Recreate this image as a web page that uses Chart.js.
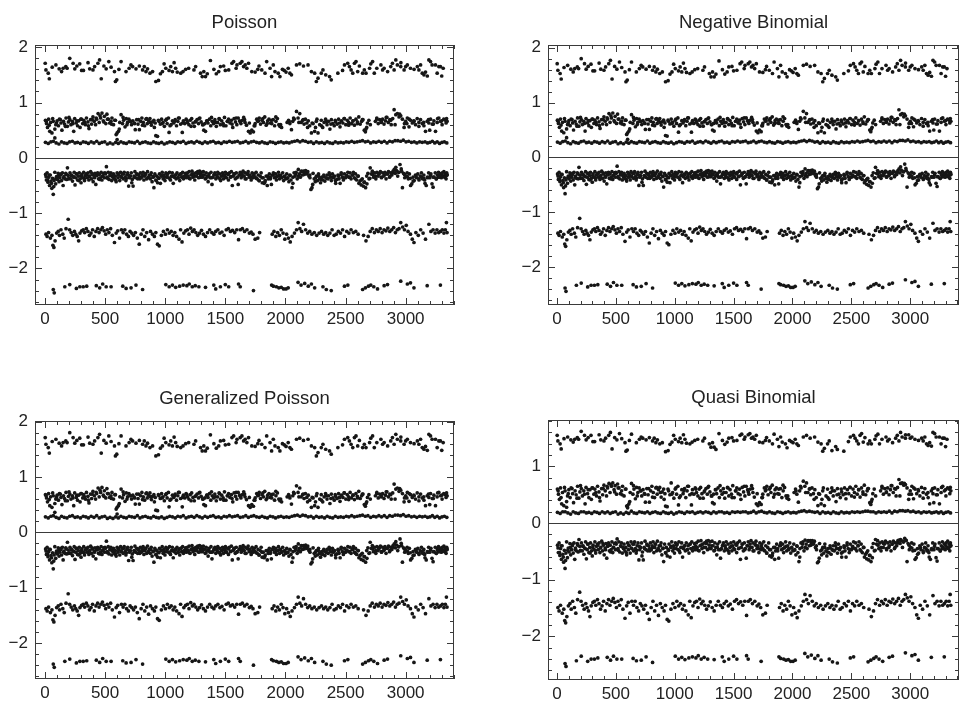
<!DOCTYPE html>
<html><head><meta charset="utf-8">
<script src="https://cdn.jsdelivr.net/npm/chart.js@4.4.0/dist/chart.umd.min.js"></script>
<style>
html,body{margin:0;padding:0;background:#fff;}
body{width:963px;height:703px;position:relative;overflow:hidden;}
canvas{position:absolute;}
</style></head><body>
<canvas id="c1"></canvas><canvas id="c2"></canvas><canvas id="c3"></canvas><canvas id="c4"></canvas>
<script>
const panelTitles = ['Poisson','Negative Binomial','Generalized Poisson','Quasi Binomial'];
const xTickValues = [0,500,1000,1500,2000,2500,3000];
const yTickValuesA = [-2,-1,0,1,2];
const yTickValuesQ = [-2,-1,0,1];

// ---- band 1 (top) ----
const obsB1 = [2,8,27,36,91,118,138,151,173,184,
206,234,248,289,305,358,372,399,413,440,
454,468,490,509,531,550,578,586,597,633,
674,700,729,757,785,812,826,840,853,873,
895,922,944,960,977,991,1005,1032,1046,1060,
1074,1087,1100,1129,1148,1170,1239,1253,1294,1308,
1321,1335,1350,1376,1445,1459,1486,1500,1528,1555,
1569,1597,1624,1638,1652,1679,1693,1720,1748,1770,
1803,1830,1844,1872,1885,1899,1913,1940,1954,1975,
2023,2037,2050,2092,2119,2188,2216,2243,2257,2271,
2298,2312,2335,2367,2381,2436,2491,2518,2532,2546,
2560,2574,2587,2601,2615,2642,2656,2670,2700,2725,
2739,2760,2794,2808,2821,2850,2876,2890,2904,2918,
2931,2959,2987,3000,3014,3040,3070,3097,3110,3124,
3138,3152,3165,3180,3193,3207,3220,3248,3262,3276,
3289,3300,3312,1405,1425,1590,1665,2005,2150,2475,
60,265,320,615,715,1195,1780,1990,2710,2960];
const poisB1 = [1.71,1.59,1.53,1.43,1.68,1.61,1.56,1.62,1.65,1.62,
1.80,1.71,1.61,1.70,1.58,1.72,1.61,1.59,1.65,1.71,
1.77,1.43,1.66,1.61,1.74,1.64,1.56,1.38,1.41,1.74,
1.56,1.62,1.65,1.61,1.66,1.59,1.65,1.56,1.61,1.53,
1.56,1.38,1.40,1.52,1.56,1.70,1.62,1.58,1.65,1.56,
1.72,1.62,1.55,1.53,1.56,1.60,1.59,1.65,1.53,1.47,
1.56,1.47,1.52,1.76,1.56,1.65,1.66,1.58,1.59,1.71,
1.74,1.68,1.71,1.74,1.65,1.62,1.71,1.56,1.55,1.60,
1.59,1.53,1.74,1.62,1.47,1.68,1.56,1.53,1.47,1.60,
1.62,1.53,1.50,1.68,1.70,1.68,1.56,1.53,1.38,1.44,
1.53,1.59,1.50,1.47,1.41,1.53,1.68,1.71,1.65,1.59,
1.53,1.71,1.74,1.56,1.66,1.53,1.59,1.53,1.62,1.74,
1.53,1.62,1.68,1.59,1.62,1.56,1.65,1.71,1.59,1.77,
1.68,1.65,1.59,1.65,1.68,1.62,1.60,1.65,1.59,1.68,
1.53,1.50,1.55,1.48,1.77,1.74,1.68,1.68,1.53,1.65,
1.65,1.48,1.62,1.60,1.52,1.62,1.68,1.55,1.66,1.58,
1.64,1.66,1.58,1.60,1.68,1.62,1.66,1.58,1.70,1.72];
const qbB1 = [1.55,1.45,1.40,1.31,1.52,1.47,1.43,1.48,1.51,1.48,
1.62,1.55,1.47,1.55,1.44,1.56,1.47,1.45,1.50,1.55,
1.60,1.31,1.51,1.47,1.58,1.49,1.42,1.27,1.29,1.57,
1.42,1.48,1.50,1.47,1.51,1.45,1.50,1.42,1.47,1.40,
1.42,1.26,1.28,1.39,1.43,1.55,1.48,1.44,1.50,1.42,
1.56,1.48,1.41,1.40,1.43,1.46,1.45,1.50,1.40,1.34,
1.42,1.34,1.30,1.58,1.43,1.50,1.51,1.45,1.46,1.55,
1.57,1.52,1.56,1.58,1.50,1.48,1.55,1.43,1.42,1.46,
1.45,1.40,1.57,1.48,1.35,1.52,1.43,1.40,1.33,1.46,
1.48,1.40,1.37,1.52,1.55,1.52,1.43,1.40,1.27,1.32,
1.40,1.45,1.28,1.35,1.30,1.27,1.52,1.55,1.50,1.45,
1.40,1.55,1.58,1.43,1.51,1.40,1.45,1.40,1.48,1.57,
1.40,1.48,1.52,1.45,1.48,1.42,1.50,1.55,1.45,1.60,
1.52,1.50,1.56,1.50,1.52,1.48,1.46,1.50,1.45,1.52,
1.40,1.37,1.42,1.36,1.60,1.58,1.52,1.52,1.40,1.50,
1.50,1.35,1.48,1.46,1.39,1.48,1.52,1.42,1.50,1.44,
1.49,1.51,1.44,1.46,1.52,1.48,1.51,1.44,1.54,1.56];

// ---- band 2 ----
const obsB2 = [4,13,21,30,40,47,58,69,82,90,
101,112,120,133,141,154,163,175,186,195,
207,216,228,239,247,260,271,280,292,303,
314,322,336,345,357,366,379,388,399,410,
421,430,442,451,463,474,485,494,506,515,
527,538,549,557,570,581,592,600,611,622,
633,645,654,666,676,687,698,708,720,731,
742,751,763,774,785,796,806,818,829,840,
851,862,873,885,894,906,917,922,936,948,
959,970,982,993,1004,1016,1027,1032,1049,1060,
1071,1083,1094,1105,1117,1128,1142,1151,1163,1174,
1185,1197,1208,1220,1231,1242,1254,1265,1277,1288,
1299,1311,1321,1335,1345,1356,1368,1379,1391,1402,
1413,1425,1436,1448,1459,1470,1482,1493,1505,1516,
1527,1539,1550,1562,1573,1585,1596,1607,1619,1630,
1642,1653,1664,1676,1693,1707,1720,1734,1748,1761,
1770,1782,1793,1805,1817,1828,1840,1852,1863,1875,
1886,1898,1910,1921,1933,1945,1954,1968,2014,2026,
2037,2050,2061,2073,2092,2105,2119,2131,2143,2155,
2166,2178,2190,2202,2216,2230,2243,2257,2271,2285,
2298,2310,2322,2334,2346,2358,2370,2382,2394,2406,
2418,2430,2442,2454,2466,2478,2490,2502,2514,2526,
2538,2550,2562,2574,2586,2598,2610,2622,2634,2645,
2656,2670,2682,2694,2706,2748,2760,2772,2784,2796,
2808,2820,2832,2844,2856,2868,2880,2892,2904,2918,
2931,2945,2959,2973,2987,3000,3014,3028,3041,3055,
3068,3082,3096,3110,3124,3138,3152,3165,3179,3193,
3207,3221,3235,3248,3262,3276,3290,3303,3317,3331,
3340,82,600,3345,1330,1745,2250,2665,3010,3200];
const poisB2 = [.68,.62,.55,.70,.48,.64,.45,.66,.52,.60,
.67,.58,.70,.63,.50,.66,.61,.72,.57,.65,
.69,.60,.66,.48,.71,.63,.58,.67,.55,.70,
.62,.68,.60,.72,.65,.53,.69,.61,.74,.66,
.60,.70,.80,.64,.72,.81,.67,.75,.62,.79,
.70,.63,.66,.72,.60,.68,.42,.45,.48,.64,
.78,.62,.68,.56,.71,.64,.70,.66,.60,.67,
.63,.51,.69,.61,.51,.66,.72,.64,.58,.70,
.62,.67,.71,.59,.65,.68,.63,.40,.39,.66,
.61,.70,.64,.57,.68,.62,.72,.46,.60,.67,
.63,.69,.58,.66,.72,.61,.46,.67,.62,.70,
.64,.60,.68,.71,.63,.57,.66,.69,.62,.72,
.65,.60,.50,.48,.67,.63,.70,.58,.66,.62,
.69,.57,.64,.71,.60,.67,.62,.73,.58,.66,
.70,.63,.68,.55,.71,.65,.60,.72,.67,.62,
.68,.73,.64,.59,.48,.45,.50,.47,.62,.70,
.66,.72,.61,.68,.64,.74,.59,.67,.70,.63,
.62,.69,.58,.66,.71,.60,.57,.55,.64,.68,
.62,.51,.66,.70,.84,.72,.80,.64,.68,.61,
.70,.63,.67,.58,.45,.62,.48,.66,.45,.60,
.68,.55,.64,.70,.60,.66,.52,.69,.62,.58,
.65,.61,.70,.56,.67,.63,.71,.60,.68,.64,
.72,.62,.67,.59,.70,.65,.74,.61,.66,.69,
.50,.52,.63,.68,.60,.66,.72,.62,.69,.64,
.70,.61,.67,.73,.64,.69,.60,.71,.87,.78,
.80,.74,.76,.70,.55,.66,.72,.56,.68,.63,
.67,.60,.71,.64,.69,.62,.58,.48,.66,.63,
.70,.61,.67,.48,.64,.72,.66,.60,.70,.68,
.71,.36,.33,.66,.62,.58,.55,.47,.62,.50];
const qbB2 = [.60,.51,.42,.62,.34,.54,.31,.57,.38,.48,
.59,.45,.62,.52,.36,.57,.50,.65,.44,.55,
.61,.48,.57,.34,.63,.52,.45,.59,.42,.62,
.51,.60,.48,.65,.55,.39,.61,.50,.67,.57,
.48,.62,.70,.54,.65,.71,.59,.66,.51,.69,
.62,.52,.57,.65,.48,.60,.30,.31,.34,.54,
.70,.51,.60,.43,.63,.54,.62,.57,.48,.59,
.52,.37,.61,.50,.37,.57,.65,.54,.45,.62,
.51,.59,.63,.46,.55,.60,.52,.30,.29,.57,
.50,.71,.54,.44,.60,.51,.65,.32,.48,.59,
.52,.61,.45,.57,.65,.50,.32,.59,.51,.62,
.54,.48,.60,.63,.52,.44,.57,.61,.51,.65,
.55,.48,.36,.34,.59,.52,.62,.45,.57,.51,
.61,.44,.54,.63,.48,.59,.51,.66,.45,.57,
.62,.52,.60,.42,.63,.55,.48,.65,.59,.51,
.60,.66,.54,.46,.34,.31,.36,.33,.51,.62,
.57,.65,.50,.60,.54,.67,.46,.59,.62,.52,
.51,.61,.45,.57,.63,.48,.44,.42,.54,.60,
.51,.37,.57,.62,.74,.65,.71,.54,.60,.50,
.62,.52,.59,.45,.31,.51,.34,.57,.31,.48,
.60,.42,.54,.62,.48,.57,.38,.61,.51,.45,
.55,.50,.62,.43,.59,.52,.63,.48,.60,.54,
.65,.51,.59,.46,.62,.55,.67,.50,.57,.61,
.36,.38,.52,.60,.48,.57,.65,.51,.61,.54,
.62,.50,.59,.66,.54,.61,.48,.63,.77,.70,
.71,.67,.68,.62,.42,.57,.65,.43,.60,.52,
.59,.48,.63,.54,.61,.51,.45,.34,.57,.52,
.62,.50,.59,.34,.54,.65,.57,.48,.62,.60,
.63,.28,.27,.57,.51,.45,.42,.33,.51,.36];
const obsB2b = [10,35,64,96,128,170,200,233,265,298,
330,361,393,426,458,490,520,553,586,618,
650,682,714,746,779,811,845,878,910,943,
975,1010,1040,1078,1110,1145,1180,1215,1250,1282,
1315,1350,1385,1418,1452,1487,1520,1556,1590,1625,
1660,1700,1740,1776,1812,1848,1884,1920,1960,2030,
2068,2112,2148,2184,2222,2262,2300,2340,2378,2414,
2450,2488,2526,2562,2600,2640,2676,2760,2798,2838,
2876,2912,2950,2990,3030,3070,3110,3150,3190,3230,
3266,3300,3336];
const poisB2b = [.66,.59,.71,.63,.69,.57,.73,.62,.67,.70,
.64,.58,.69,.72,.76,.65,.70,.61,.68,.52,
.73,.60,.66,.62,.69,.59,.71,.64,.55,.68,
.62,.70,.58,.66,.72,.63,.68,.57,.65,.71,
.60,.67,.73,.64,.70,.58,.66,.61,.72,.65,
.69,.63,.58,.67,.71,.62,.68,.74,.60,.66,
.72,.64,.69,.55,.63,.70,.58,.66,.61,.68,
.63,.71,.59,.67,.62,.69,.55,.70,.65,.73,
.68,.60,.79,.62,.70,.66,.57,.64,.69,.61,
.71,.67,.63];
const qbB2b = [.57,.45,.63,.52,.61,.44,.66,.51,.59,.62,
.54,.45,.61,.65,.68,.55,.62,.50,.60,.38,
.66,.48,.57,.51,.61,.46,.63,.54,.42,.60,
.51,.62,.45,.57,.65,.52,.60,.44,.55,.63,
.48,.59,.66,.54,.62,.45,.57,.50,.65,.55,
.61,.52,.45,.59,.63,.51,.60,.67,.48,.57,
.65,.54,.61,.42,.52,.62,.45,.57,.50,.60,
.52,.63,.46,.59,.51,.61,.42,.62,.55,.66,
.60,.48,.70,.51,.62,.57,.44,.54,.61,.50,
.63,.59,.52];

// ---- band 3 (thin dense band) ----
const obsB3 = [4,27,49,70,93,116,138,160,183,205,
228,250,271,295,318,340,361,384,407,430,
452,474,497,519,541,565,588,610,632,655,
677,700,722,745,768,790,812,835,857,880,
903,925,947,970,992,1015,1038,1060,1083,1105,
1128,1150,1173,1196,1218,1240,1263,1286,1308,1331,
1353,1376,1399,1421,1444,1466,1489,1512,1534,1557,
1579,1602,1624,1647,1670,1692,1715,1737,1760,1783,
1805,1828,1850,1873,1896,1918,1941,1963,1986,2009,
2031,2054,2076,2099,2121,2144,2167,2189,2212,2234,
2257,2280,2302,2325,2347,2370,2393,2415,2438,2460,
2483,2506,2528,2551,2573,2596,2619,2641,2664,2686,
2709,2732,2754,2777,2799,2822,2845,2867,2890,2912,
2935,2958,2980,3003,3025,3048,3071,3093,3116,3138,
3161,3182,3202,3222,3242,3262,3282,3302,3322,3342];
const poisB3 = [.28,.26,.29,.30,.27,.25,.29,.27,.26,.29,
.30,.27,.28,.26,.29,.28,.26,.29,.27,.30,
.26,.28,.29,.25,.27,.25,.28,.26,.29,.27,
.26,.29,.28,.27,.30,.26,.28,.29,.27,.26,
.29,.27,.26,.28,.25,.27,.29,.28,.26,.29,
.28,.30,.26,.28,.29,.27,.30,.28,.26,.29,
.27,.29,.30,.27,.28,.26,.29,.28,.30,.28,
.29,.30,.27,.28,.30,.27,.29,.30,.28,.27,
.29,.27,.26,.29,.28,.26,.28,.29,.27,.28,
.27,.29,.30,.31,.29,.31,.30,.28,.29,.26,
.29,.27,.28,.26,.29,.27,.26,.29,.27,.28,
.27,.29,.28,.30,.28,.29,.30,.31,.29,.30,
.27,.29,.28,.30,.28,.30,.27,.30,.29,.31,
.31,.30,.32,.29,.30,.28,.29,.27,.29,.28,
.29,.27,.28,.30,.27,.29,.26,.28,.29,.27];
const qbB3 = [.19,.17,.20,.20,.18,.16,.20,.18,.17,.20,
.20,.18,.19,.17,.20,.19,.17,.20,.18,.20,
.17,.19,.20,.16,.18,.16,.19,.17,.21,.18,
.17,.20,.19,.18,.20,.17,.19,.20,.18,.17,
.20,.18,.17,.19,.16,.18,.20,.19,.17,.20,
.19,.20,.17,.19,.20,.18,.20,.19,.17,.20,
.18,.20,.20,.18,.19,.17,.20,.19,.20,.19,
.20,.20,.18,.19,.21,.18,.20,.21,.19,.18,
.20,.18,.17,.20,.19,.17,.19,.20,.18,.19,
.18,.20,.21,.22,.20,.21,.20,.19,.20,.17,
.20,.18,.19,.17,.20,.18,.17,.20,.18,.19,
.18,.20,.19,.20,.19,.20,.21,.21,.20,.20,
.18,.20,.19,.20,.19,.21,.18,.21,.20,.22,
.22,.21,.22,.20,.21,.19,.20,.18,.20,.19,
.20,.18,.19,.20,.18,.20,.17,.19,.20,.18];

// ---- band 4 (dense, below zero) ----
const obsB4 = [5,12,18,25,31,38,44,50,57,63,
69,76,82,89,96,103,110,117,124,131,
138,145,151,158,166,173,180,187,193,200,
208,215,222,229,236,243,250,257,264,271,
278,285,293,300,307,315,322,329,336,343,
351,358,365,372,380,387,394,401,409,416,
423,430,438,445,452,460,467,474,482,489,
496,503,511,518,526,533,540,548,555,562,
570,577,585,592,600,607,614,622,629,636,
644,651,659,666,673,681,688,696,703,711,
718,726,733,741,748,756,763,771,778,786,
793,801,808,816,823,831,838,846,853,861,
868,876,884,891,899,906,914,922,929,937,
944,952,960,967,975,983,990,998,1006,1013,
1021,1029,1036,1044,1052,1059,1067,1075,1083,1090,
1098,1106,1114,1121,1129,1137,1145,1152,1160,1168,
1176,1184,1191,1199,1207,1215,1223,1231,1238,1246,
1254,1262,1270,1278,1286,1293,1301,1309,1317,1325,
1333,1341,1349,1357,1365,1373,1381,1389,1397,1405,
1413,1421,1429,1437,1445,1453,1461,1469,1477,1485,
1493,1501,1509,1518,1526,1534,1542,1550,1558,1566,
1575,1583,1591,1599,1607,1615,1624,1632,1640,1648,
1657,1665,1673,1681,1690,1698,1706,1715,1723,1731,
1740,1748,1756,1765,1773,1781,1790,1798,1807,1815,
1823,1832,1840,1849,1857,1866,1874,1883,1891,1900,
1908,1917,1925,1934,1942,1951,1960,1968,1977,1985,
1994,2003,2011,2020,2029,2037,2046,2055,2063,2072,
2081,2089,2098,2107,2116,2124,2133,2142,2151,2160,
2168,2177,2186,2195,2204,2212,2221,2230,2239,2248,
2257,2266,2275,2284,2292,2301,2310,2319,2328,2337,
2346,2355,2364,2373,2382,2391,2400,2409,2418,2427,
2437,2446,2455,2464,2473,2482,2491,2500,2510,2519,
2528,2537,2546,2556,2565,2574,2583,2593,2602,2611,
2620,2630,2639,2648,2658,2667,2676,2686,2695,2705,
2714,2723,2733,2742,2752,2761,2771,2780,2790,2799,
2809,2818,2828,2837,2847,2857,2866,2876,2885,2895,
2905,2914,2924,2934,2943,2953,2963,2973,2982,2992,
3002,3012,3022,3031,3041,3051,3061,3071,3081,3091,
3101,3111,3121,3131,3141,3151,3161,3171,3181,3191,
3201,3210,3219,3228,3237,3246,3255,3264,3273,3282,
3290,3297,3304,3311,3318,3324,3330,3336,3341,3345];
const poisB4 = [-.30,-.40,-.27,-.44,-.35,-.50,-.31,-.42,-.55,-.37,
-.66,-.41,-.26,-.47,-.34,-.39,-.28,-.43,-.36,-.31,
-.41,-.27,-.50,-.34,-.38,-.28,-.39,-.18,-.32,-.37,
-.27,-.38,-.31,-.42,-.34,-.26,-.49,-.36,-.29,-.40,
-.33,-.27,-.38,-.45,-.30,-.36,-.26,-.41,-.32,-.29,
-.36,-.27,-.40,-.33,-.25,-.38,-.30,-.43,-.34,-.28,
-.48,-.32,-.27,-.38,-.30,-.36,-.26,-.40,-.33,-.28,
-.36,-.29,-.16,-.35,-.26,-.39,-.31,-.27,-.41,-.33,
-.29,-.38,-.33,-.43,-.27,-.36,-.31,-.41,-.26,-.35,
-.29,-.38,-.26,-.35,-.41,-.31,-.27,-.51,-.36,-.33,
-.27,-.39,-.51,-.33,-.25,-.36,-.29,-.38,-.31,-.35,
-.27,-.36,-.31,-.26,-.40,-.33,-.29,-.38,-.25,-.35,
-.31,-.38,-.27,-.43,-.35,-.54,-.29,-.40,-.33,-.45,
-.36,-.29,-.46,-.33,-.26,-.38,-.31,-.41,-.27,-.35,
-.29,-.36,-.26,-.40,-.33,-.27,-.46,-.35,-.31,-.38,
-.27,-.36,-.31,-.41,-.29,-.35,-.26,-.38,-.33,-.28,
-.36,-.27,-.33,-.25,-.38,-.31,-.24,-.35,-.29,-.40,
-.27,-.33,-.25,-.36,-.24,-.30,-.26,-.35,-.25,-.31,
-.38,-.27,-.33,-.43,-.29,-.36,-.26,-.48,-.35,-.31,
-.27,-.38,-.31,-.26,-.36,-.29,-.41,-.33,-.27,-.38,
-.31,-.26,-.36,-.29,-.40,-.27,-.35,-.25,-.50,-.33,
-.29,-.38,-.27,-.35,-.48,-.31,-.26,-.36,-.29,-.24,
-.33,-.27,-.38,-.29,-.25,-.35,-.31,-.40,-.27,-.36,
-.29,-.35,-.26,-.38,-.31,-.41,-.33,-.27,-.45,-.36,
-.46,-.41,-.33,-.50,-.38,-.29,-.35,-.48,-.31,-.27,
-.36,-.29,-.40,-.33,-.26,-.38,-.31,-.35,-.27,-.41,
-.33,-.38,-.29,-.36,-.43,-.31,-.40,-.54,-.35,-.27,
-.33,-.26,-.38,-.21,-.29,-.35,-.25,-.31,-.24,-.27,
-.23,-.29,-.25,-.33,-.36,-.57,-.54,-.28,-.38,-.43,
-.33,-.41,-.29,-.38,-.45,-.35,-.40,-.31,-.42,-.36,
-.31,-.38,-.27,-.35,-.41,-.29,-.36,-.33,-.46,-.39,
-.31,-.38,-.46,-.27,-.35,-.40,-.29,-.36,-.33,-.26,
-.35,-.27,-.38,-.31,-.26,-.36,-.29,-.40,-.33,-.46,
-.42,-.49,-.38,-.51,-.44,-.54,-.33,-.28,-.38,-.18,
-.29,-.24,-.35,-.27,-.38,-.26,-.33,-.29,-.25,-.36,
-.27,-.33,-.26,-.38,-.29,-.25,-.35,-.27,-.31,-.24,
-.21,-.28,-.23,-.33,-.26,-.12,-.20,-.54,-.28,-.36,
-.33,-.27,-.38,-.29,-.50,-.47,-.35,-.41,-.31,-.36,
-.29,-.40,-.33,-.27,-.38,-.31,-.46,-.50,-.35,-.27,
-.36,-.29,-.47,-.53,-.35,-.27,-.38,-.31,-.26,-.35,
-.29,-.36,-.27,-.33,-.25,-.35,-.29,-.38,-.27,-.31];
const qbB4 = [-.39,-.52,-.35,-.57,-.45,-.64,-.40,-.55,-.69,-.48,
-.80,-.53,-.33,-.61,-.44,-.51,-.36,-.56,-.47,-.40,
-.53,-.35,-.64,-.44,-.49,-.36,-.51,-.29,-.41,-.48,
-.35,-.49,-.40,-.55,-.44,-.33,-.63,-.47,-.37,-.52,
-.43,-.35,-.49,-.58,-.39,-.47,-.33,-.53,-.41,-.37,
-.47,-.35,-.52,-.43,-.32,-.49,-.39,-.56,-.44,-.36,
-.62,-.41,-.35,-.49,-.39,-.47,-.33,-.52,-.43,-.36,
-.47,-.37,-.28,-.45,-.33,-.51,-.40,-.35,-.53,-.43,
-.37,-.49,-.43,-.56,-.35,-.47,-.40,-.53,-.33,-.45,
-.37,-.49,-.33,-.45,-.53,-.40,-.35,-.65,-.47,-.43,
-.35,-.51,-.65,-.43,-.32,-.47,-.37,-.49,-.40,-.45,
-.35,-.47,-.40,-.33,-.52,-.43,-.37,-.49,-.32,-.45,
-.40,-.49,-.35,-.56,-.45,-.68,-.37,-.52,-.43,-.58,
-.47,-.37,-.60,-.43,-.33,-.49,-.40,-.53,-.35,-.45,
-.37,-.47,-.33,-.52,-.43,-.35,-.60,-.45,-.40,-.49,
-.35,-.47,-.40,-.53,-.37,-.45,-.33,-.49,-.43,-.36,
-.47,-.35,-.43,-.32,-.49,-.40,-.31,-.45,-.37,-.52,
-.35,-.43,-.32,-.47,-.31,-.39,-.33,-.45,-.32,-.40,
-.49,-.35,-.43,-.56,-.37,-.47,-.33,-.62,-.45,-.40,
-.35,-.49,-.40,-.33,-.47,-.37,-.53,-.43,-.35,-.49,
-.40,-.33,-.47,-.37,-.52,-.35,-.45,-.32,-.64,-.43,
-.37,-.49,-.35,-.45,-.62,-.40,-.33,-.47,-.37,-.31,
-.43,-.35,-.49,-.37,-.32,-.45,-.40,-.52,-.35,-.47,
-.37,-.45,-.33,-.49,-.40,-.53,-.43,-.35,-.58,-.47,
-.60,-.53,-.43,-.64,-.49,-.37,-.45,-.62,-.40,-.35,
-.47,-.37,-.52,-.43,-.33,-.49,-.40,-.45,-.35,-.53,
-.43,-.49,-.37,-.47,-.56,-.40,-.52,-.68,-.45,-.35,
-.43,-.33,-.49,-.30,-.37,-.45,-.32,-.40,-.31,-.35,
-.31,-.37,-.32,-.43,-.47,-.70,-.68,-.36,-.49,-.56,
-.43,-.53,-.37,-.49,-.58,-.45,-.52,-.40,-.55,-.47,
-.40,-.49,-.35,-.45,-.53,-.37,-.47,-.43,-.60,-.51,
-.40,-.49,-.60,-.35,-.45,-.52,-.37,-.47,-.43,-.33,
-.45,-.35,-.49,-.40,-.33,-.47,-.37,-.52,-.43,-.60,
-.55,-.63,-.49,-.65,-.57,-.68,-.43,-.36,-.49,-.29,
-.37,-.31,-.45,-.35,-.49,-.33,-.43,-.37,-.32,-.47,
-.35,-.43,-.33,-.49,-.37,-.32,-.45,-.35,-.40,-.31,
-.30,-.36,-.31,-.43,-.33,-.27,-.30,-.68,-.36,-.47,
-.43,-.35,-.49,-.37,-.64,-.61,-.45,-.53,-.40,-.47,
-.37,-.52,-.43,-.35,-.49,-.40,-.60,-.64,-.45,-.35,
-.47,-.37,-.61,-.67,-.45,-.35,-.49,-.40,-.33,-.45,
-.37,-.47,-.35,-.43,-.32,-.45,-.37,-.49,-.35,-.40];
const obsB4b = [9,22,35,54,73,92,113,134,155,177,
197,219,240,260,282,304,326,347,369,391,
412,434,456,478,499,521,543,565,588,610,
632,654,677,699,722,744,767,789,812,834,
857,879,902,925,948,970,993,1016,1039,1062,
1085,1108,1131,1154,1177,1200,1223,1247,1270,1293,
1316,1339,1362,1386,1409,1432,1455,1479,1502,1525,
1548,1572,1595,1618,1641,1665,1688,1711,1735,1758,
1781,1805,1828,1851,1875,1898,1921,1945,1968,1992,
2015,2039,2062,2086,2109,2133,2156,2180,2203,2227,
2250,2274,2297,2321,2345,2368,2392,2416,2440,2463,
2487,2511,2535,2558,2582,2606,2630,2654,2678,2702,
2726,2750,2774,2798,2822,2846,2870,2894,2918,2942,
2966,2990,3014,3038,3062,3086,3110,3134,3158,3182,
3206,3230,3254,3278,3302,3326,3338,3343,3270,3150];
const poisB4b = [-.34,-.40,-.31,-.46,-.52,-.37,-.33,-.29,-.36,-.30,
-.38,-.32,-.35,-.29,-.41,-.33,-.37,-.30,-.34,-.28,
-.36,-.31,-.39,-.33,-.27,-.37,-.32,-.35,-.40,-.30,
-.34,-.29,-.37,-.32,-.45,-.35,-.30,-.38,-.33,-.29,
-.36,-.31,-.34,-.41,-.37,-.32,-.35,-.30,-.38,-.33,
-.31,-.36,-.29,-.34,-.32,-.37,-.30,-.33,-.28,-.35,
-.31,-.37,-.33,-.36,-.30,-.34,-.38,-.32,-.35,-.30,
-.34,-.29,-.36,-.31,-.33,-.38,-.30,-.35,-.32,-.37,
-.41,-.36,-.44,-.33,-.38,-.31,-.35,-.32,-.36,-.34,
-.37,-.32,-.46,-.29,-.33,-.24,-.30,-.27,-.31,-.48,
-.36,-.33,-.39,-.34,-.37,-.31,-.35,-.41,-.33,-.30,
-.36,-.32,-.35,-.31,-.38,-.33,-.40,-.44,-.47,-.37,
-.30,-.33,-.28,-.35,-.31,-.29,-.33,-.27,-.17,-.26,
-.24,-.30,-.34,-.37,-.42,-.33,-.38,-.35,-.40,-.36,
-.32,-.35,-.38,-.33,-.31,-.34,-.32,-.30,-.35,-.37];
const qbB4b = [-.44,-.52,-.40,-.60,-.66,-.48,-.43,-.37,-.47,-.39,
-.49,-.41,-.45,-.37,-.53,-.43,-.48,-.39,-.44,-.36,
-.47,-.40,-.51,-.43,-.35,-.48,-.41,-.45,-.52,-.39,
-.44,-.37,-.48,-.41,-.58,-.45,-.39,-.49,-.43,-.37,
-.47,-.40,-.44,-.53,-.48,-.41,-.45,-.39,-.49,-.43,
-.40,-.47,-.37,-.44,-.41,-.48,-.39,-.43,-.36,-.45,
-.40,-.48,-.43,-.47,-.39,-.44,-.49,-.41,-.45,-.39,
-.44,-.37,-.47,-.40,-.43,-.49,-.39,-.45,-.41,-.48,
-.53,-.47,-.57,-.43,-.49,-.40,-.45,-.41,-.47,-.44,
-.48,-.41,-.60,-.37,-.43,-.31,-.39,-.35,-.40,-.62,
-.47,-.43,-.51,-.44,-.48,-.40,-.45,-.53,-.43,-.39,
-.47,-.41,-.45,-.40,-.49,-.43,-.52,-.57,-.61,-.48,
-.39,-.43,-.36,-.45,-.40,-.37,-.43,-.35,-.29,-.33,
-.31,-.39,-.44,-.48,-.55,-.43,-.49,-.45,-.52,-.47,
-.41,-.45,-.49,-.43,-.40,-.44,-.41,-.39,-.45,-.48];

// ---- band 5 ----
const obsB5 = [8,18,30,45,58,66,74,84,97,110,
121,133,148,160,175,193,205,218,231,245,
256,268,280,291,305,318,330,344,357,370,
383,396,410,424,438,450,465,478,492,505,
518,532,546,560,578,592,605,620,636,650,
664,679,694,708,722,737,752,768,784,800,
815,830,846,862,878,894,910,922,936,950,
968,985,1002,1018,1034,1050,1066,1080,1095,1115,
1128,1140,1155,1170,1185,1198,1212,1226,1240,1255,
1270,1286,1302,1318,1335,1352,1370,1388,1405,1420,
1438,1455,1472,1490,1508,1525,1542,1560,1578,1595,
1610,1625,1642,1660,1680,1700,1715,1730,1748,1770,
1785,1890,1905,1920,1935,1950,1965,1980,1995,2010,
2025,2040,2055,2075,2092,2106,2120,2135,2150,2168,
2185,2202,2220,2240,2260,2280,2300,2318,2335,2352,
2370,2388,2405,2422,2440,2458,2475,2492,2510,2528,
2546,2565,2585,2605,2650,2670,2688,2705,2722,2740,
2756,2772,2788,2804,2820,2836,2852,2868,2884,2900,
2915,2930,2945,2959,2975,2990,3005,3020,3040,3055,
3069,3085,3105,3125,3145,3165,3193,3210,3228,3245,
3260,3275,3290,3305,3318,3330,3339,3344];
const poisB5 = [-1.38,-1.42,-1.35,-1.45,-1.40,-1.58,-1.62,-1.50,-1.36,-1.33,
-1.40,-1.30,-1.38,-1.45,-1.28,-1.11,-1.30,-1.35,-1.40,-1.33,
-1.38,-1.42,-1.50,-1.36,-1.32,-1.30,-1.35,-1.28,-1.33,-1.40,
-1.36,-1.30,-1.42,-1.33,-1.28,-1.35,-1.30,-1.26,-1.32,-1.38,
-1.30,-1.35,-1.28,-1.40,-1.53,-1.36,-1.32,-1.45,-1.30,-1.35,
-1.30,-1.38,-1.42,-1.33,-1.36,-1.40,-1.35,-1.45,-1.56,-1.38,
-1.30,-1.42,-1.35,-1.48,-1.33,-1.38,-1.42,-1.35,-1.56,-1.59,
-1.40,-1.33,-1.38,-1.30,-1.36,-1.33,-1.40,-1.35,-1.42,-1.47,
-1.30,-1.52,-1.36,-1.32,-1.30,-1.38,-1.27,-1.33,-1.30,-1.35,
-1.40,-1.36,-1.31,-1.38,-1.42,-1.35,-1.30,-1.35,-1.38,-1.33,
-1.30,-1.36,-1.34,-1.40,-1.30,-1.28,-1.33,-1.31,-1.35,-1.30,
-1.48,-1.30,-1.28,-1.33,-1.30,-1.36,-1.34,-1.38,-1.47,-1.45,
-1.35,-1.38,-1.33,-1.42,-1.35,-1.40,-1.30,-1.36,-1.47,-1.38,
-1.45,-1.52,-1.42,-1.36,-1.30,-1.17,-1.28,-1.33,-1.20,-1.30,
-1.36,-1.33,-1.38,-1.35,-1.40,-1.36,-1.33,-1.38,-1.35,-1.40,
-1.36,-1.30,-1.40,-1.38,-1.33,-1.36,-1.30,-1.42,-1.33,-1.36,
-1.30,-1.35,-1.33,-1.38,-1.40,-1.50,-1.42,-1.33,-1.28,-1.35,
-1.30,-1.33,-1.28,-1.35,-1.30,-1.32,-1.27,-1.33,-1.30,-1.26,
-1.35,-1.30,-1.28,-1.17,-1.25,-1.30,-1.22,-1.33,-1.38,-1.47,
-1.53,-1.35,-1.40,-1.30,-1.36,-1.47,-1.20,-1.33,-1.30,-1.36,
-1.30,-1.35,-1.33,-1.30,-1.36,-1.30,-1.17,-1.35];
const qbB5 = [-1.49,-1.55,-1.45,-1.59,-1.52,-1.72,-1.76,-1.65,-1.46,-1.42,
-1.52,-1.38,-1.49,-1.59,-1.35,-1.22,-1.38,-1.45,-1.52,-1.42,
-1.49,-1.55,-1.65,-1.46,-1.40,-1.38,-1.45,-1.35,-1.42,-1.52,
-1.46,-1.38,-1.55,-1.42,-1.35,-1.45,-1.38,-1.33,-1.40,-1.49,
-1.38,-1.45,-1.35,-1.52,-1.68,-1.46,-1.40,-1.59,-1.38,-1.45,
-1.38,-1.49,-1.55,-1.42,-1.46,-1.52,-1.45,-1.59,-1.70,-1.49,
-1.38,-1.55,-1.45,-1.63,-1.42,-1.49,-1.55,-1.45,-1.70,-1.73,
-1.52,-1.42,-1.49,-1.38,-1.46,-1.42,-1.52,-1.45,-1.55,-1.62,
-1.38,-1.67,-1.46,-1.40,-1.38,-1.49,-1.34,-1.42,-1.38,-1.45,
-1.52,-1.46,-1.39,-1.49,-1.55,-1.45,-1.38,-1.45,-1.49,-1.42,
-1.38,-1.46,-1.43,-1.52,-1.38,-1.35,-1.42,-1.39,-1.45,-1.38,
-1.63,-1.38,-1.35,-1.42,-1.38,-1.46,-1.43,-1.49,-1.62,-1.59,
-1.45,-1.49,-1.42,-1.55,-1.45,-1.52,-1.38,-1.46,-1.62,-1.49,
-1.59,-1.67,-1.55,-1.46,-1.38,-1.26,-1.35,-1.42,-1.28,-1.38,
-1.46,-1.42,-1.49,-1.45,-1.52,-1.46,-1.42,-1.49,-1.45,-1.52,
-1.46,-1.38,-1.52,-1.49,-1.42,-1.46,-1.38,-1.55,-1.42,-1.46,
-1.38,-1.45,-1.42,-1.49,-1.52,-1.65,-1.55,-1.42,-1.35,-1.45,
-1.38,-1.42,-1.35,-1.45,-1.38,-1.40,-1.34,-1.42,-1.38,-1.33,
-1.45,-1.38,-1.35,-1.26,-1.32,-1.38,-1.30,-1.42,-1.49,-1.62,
-1.68,-1.45,-1.52,-1.38,-1.46,-1.62,-1.28,-1.42,-1.38,-1.46,
-1.38,-1.45,-1.42,-1.38,-1.46,-1.38,-1.26,-1.45];

// ---- band 6 (bottom) ----
const obsB6 = [69,77,165,206,261,290,318,347,427,455,
480,509,550,647,675,716,757,812,1005,1033,
1060,1087,1120,1150,1180,1200,1225,1250,1280,1335,
1404,1420,1459,1500,1528,1610,1624,1734,1885,1900,
1925,1945,1965,1985,2005,2023,2105,2130,2160,2190,
2216,2243,2312,2340,2381,2491,2519,2642,2665,2690,
2710,2735,2766,2821,2849,2959,3014,3040,3069,3179,
3289];
const poisB6 = [-2.38,-2.44,-2.33,-2.29,-2.36,-2.33,-2.33,-2.32,-2.31,-2.35,
-2.28,-2.33,-2.33,-2.32,-2.36,-2.35,-2.30,-2.38,-2.29,-2.33,
-2.30,-2.34,-2.32,-2.30,-2.31,-2.28,-2.33,-2.31,-2.33,-2.34,
-2.30,-2.37,-2.33,-2.29,-2.33,-2.28,-2.33,-2.40,-2.30,-2.32,
-2.33,-2.35,-2.34,-2.37,-2.37,-2.35,-2.25,-2.30,-2.27,-2.32,
-2.28,-2.35,-2.33,-2.38,-2.40,-2.32,-2.30,-2.38,-2.35,-2.32,
-2.30,-2.33,-2.37,-2.31,-2.29,-2.23,-2.28,-2.26,-2.35,-2.31,
-2.30];
const qbB6 = [-2.48,-2.53,-2.43,-2.35,-2.44,-2.40,-2.40,-2.38,-2.37,-2.42,
-2.35,-2.40,-2.40,-2.39,-2.43,-2.42,-2.36,-2.46,-2.35,-2.40,
-2.37,-2.41,-2.38,-2.36,-2.38,-2.34,-2.40,-2.37,-2.40,-2.41,
-2.36,-2.44,-2.40,-2.35,-2.40,-2.34,-2.40,-2.44,-2.36,-2.39,
-2.40,-2.42,-2.41,-2.44,-2.44,-2.42,-2.30,-2.36,-2.33,-2.39,
-2.34,-2.42,-2.40,-2.45,-2.47,-2.38,-2.36,-2.45,-2.42,-2.39,
-2.36,-2.40,-2.44,-2.37,-2.35,-2.29,-2.34,-2.32,-2.42,-2.37,
-2.36];

// ---------------------------------------------------------------
const obsBands = [obsB1, obsB2, obsB2b, obsB3, obsB4, obsB4b, obsB5, obsB6];
const poissonBands = [poisB1, poisB2, poisB2b, poisB3, poisB4, poisB4b, poisB5, poisB6];
const quasiBands = [qbB1, qbB2, qbB2b, qbB3, qbB4, qbB4b, qbB5, qbB6];

function makePoints(xs, ys) {
  const n = Math.min(xs.length, ys.length), out = [];
  for (let i = 0; i < n; i++) out.push({x: xs[i], y: ys[i]});
  return out;
}

const FONT = "'Liberation Sans', Arial, Helvetica, sans-serif";
const INK = '#222';

const panels = [
  {id:'c1', title:panelTitles[0], left:0,   area:[35,45,457,305],  xr:[-83,3402], yr:[-2.66,2.04], yt:yTickValuesA, bands:poissonBands},
  {id:'c2', title:panelTitles[1], left:500, area:[548,45,962,305], xr:[-76,3414], yr:[-2.69,2.05], yt:yTickValuesA, bands:poissonBands},
  {id:'c3', title:panelTitles[2], left:0,   area:[35,421,457,679], xr:[-83,3402], yr:[-2.65,2.01], yt:yTickValuesA, bands:poissonBands},
  {id:'c4', title:panelTitles[3], left:500, area:[548,420,962,680], xr:[-76,3414], yr:[-2.77,1.82], yt:yTickValuesQ, bands:quasiBands}
];

const TITLE_H = 45, XAXIS_H = 30, PAD_R = 1;

const framePlugin = {
  id: 'mmaFrame',
  afterDatasetsDraw(chart) {
    const {ctx, chartArea: a} = chart;
    const xs = chart.scales.x, ys = chart.scales.y;
    ctx.save();
    ctx.strokeStyle = '#3a3a3a';
    ctx.lineWidth = 1;
    const y0 = Math.round(ys.getPixelForValue(0)) + 0.5;
    ctx.beginPath(); ctx.moveTo(a.left, y0); ctx.lineTo(a.right, y0); ctx.stroke();
    ctx.strokeRect(a.left + 0.5, a.top + 0.5, a.right - a.left - 1, a.bottom - a.top - 1);
    ctx.beginPath();
    for (let k = 0; k * 100 <= xs.max; k++) {
      const px = Math.round(xs.getPixelForValue(k * 100)) + 0.5;
      const L = (k % 5 === 0) ? 7 : 4;
      ctx.moveTo(px, a.bottom); ctx.lineTo(px, a.bottom - L);
      ctx.moveTo(px, a.top); ctx.lineTo(px, a.top + L);
    }
    for (let k = Math.ceil(ys.min * 5); k <= Math.floor(ys.max * 5); k++) {
      const py = Math.round(ys.getPixelForValue(k / 5)) + 0.5;
      const L = (k % 5 === 0) ? 7 : 4;
      ctx.moveTo(a.left, py); ctx.lineTo(a.left + L, py);
      ctx.moveTo(a.right, py); ctx.lineTo(a.right - L, py);
    }
    ctx.stroke();
    ctx.restore();
  }
};

function fmt(v) { return v < 0 ? '\u2212' + Math.abs(v) : String(v); }

panels.forEach(p => {
  const cv = document.getElementById(p.id);
  const [al, at, ar, ab] = p.area;
  const top = at - TITLE_H;
  const w = ar + PAD_R - p.left;
  const h = ab + XAXIS_H - top;
  cv.width = w; cv.height = h;
  cv.style.left = p.left + 'px'; cv.style.top = top + 'px';
  cv.style.width = w + 'px'; cv.style.height = h + 'px';
  const yAxisW = al - p.left;

  const datasets = obsBands.map((xs, i) => ({
    data: makePoints(xs, p.bands[i]),
    pointRadius: 1.85,
    pointBackgroundColor: '#161616',
    pointBorderWidth: 0,
    showLine: false
  }));

  new Chart(cv, {
    type: 'scatter',
    data: { datasets },
    options: {
      responsive: false,
      animation: false,
      devicePixelRatio: 1,
      events: [],
      layout: { padding: { left: 0, right: PAD_R, top: 0, bottom: 0 } },
      plugins: {
        legend: { display: false },
        tooltip: { enabled: false },
        title: {
          display: true, text: p.title, color: INK, fullSize: false,
          font: { family: FONT, size: 18.5, weight: 'normal', lineHeight: 1.2 },
          padding: { top: 12, bottom: 10.8 }
        }
      },
      scales: {
        x: {
          type: 'linear', position: 'bottom', min: p.xr[0], max: p.xr[1],
          grid: { display: false, drawTicks: false }, border: { display: false },
          ticks: { color: INK, font: { family: FONT, size: 17 }, padding: 4, autoSkip: false, maxRotation: 0, callback: v => fmt(v) },
          afterBuildTicks: s => { s.ticks = xTickValues.map(v => ({ value: v })); },
          afterFit: s => { s.height = XAXIS_H; }
        },
        y: {
          type: 'linear', position: 'left', min: p.yr[0], max: p.yr[1],
          grid: { display: false, drawTicks: false }, border: { display: false },
          ticks: { color: INK, font: { family: FONT, size: 17 }, padding: 7, autoSkip: false, callback: v => fmt(v) },
          afterBuildTicks: s => { s.ticks = p.yt.map(v => ({ value: v })); },
          afterFit: s => { s.width = yAxisW; }
        }
      }
    },
    plugins: [framePlugin]
  });
});
</script>
</body></html>
